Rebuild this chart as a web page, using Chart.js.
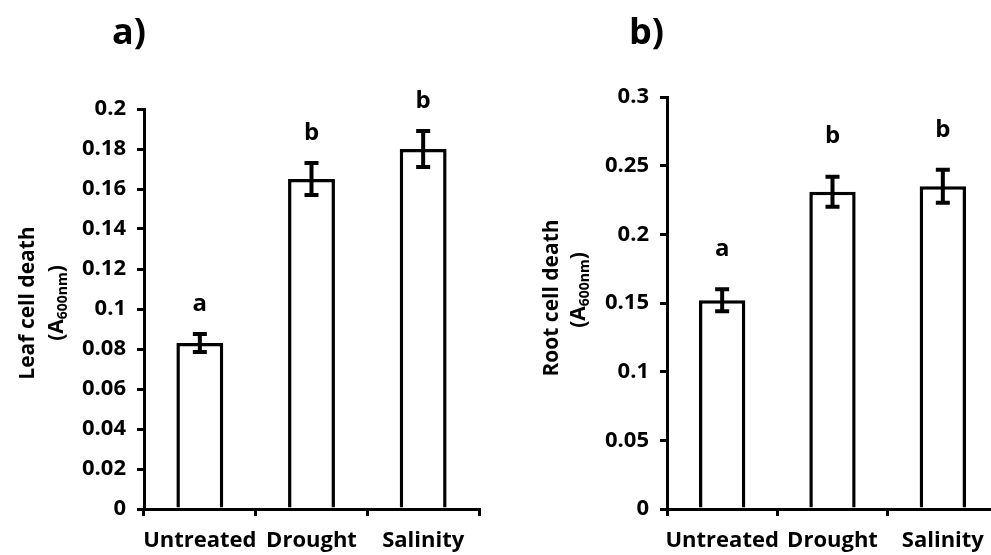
<!DOCTYPE html>
<html>
<head>
<meta charset="utf-8">
<script src="https://cdn.jsdelivr.net/npm/chart.js@4.4.1/dist/chart.umd.min.js"></script>
<style>
  html, body { margin: 0; padding: 0; background: #fff; overflow: hidden; width: 991px; height: 555px; position: relative; }
  .panel { position: absolute; top: 0; height: 555px; }
  #wrap_leaf { left: 0; width: 495px; }
  #wrap_root { left: 500px; width: 510px; }
</style>
</head>
<body>
<div class="panel" id="wrap_leaf"><canvas id="chart_leaf"></canvas></div>
<div class="panel" id="wrap_root"><canvas id="chart_root"></canvas></div>
<script>
// Cell death (A600nm) under stress treatments
const treatments = ['Untreated', 'Drought', 'Salinity'];

const leafDeath = [0.083, 0.165, 0.180];
const leafError = [0.0045, 0.008, 0.009];
const leafLetters = ['a', 'b', 'b'];
const leafTickLabels = ['0', '0.02', '0.04', '0.06', '0.08', '0.1', '0.12', '0.14', '0.16', '0.18', '0.2'];

const rootDeath = [0.152, 0.231, 0.235];
const rootError = [0.008, 0.011, 0.012];
const rootLetters = ['a', 'b', 'b'];
const rootTickLabels = ['0', '0.05', '0.1', '0.15', '0.2', '0.25', '0.3'];

const FONT = '"Open Sans", "Liberation Sans", sans-serif';

// error bars + significance letters, drawn from the dataset values
const errorBars = {
  id: 'errorBars',
  afterDatasetsDraw(chart, args, opts) {
    const { ctx } = chart;
    const y = chart.scales.y;
    const meta = chart.getDatasetMeta(0);
    const vals = chart.data.datasets[0].data;
    ctx.save();
    ctx.strokeStyle = '#000';
    ctx.lineWidth = 4;
    meta.data.forEach((bar, i) => {
      const top = y.getPixelForValue(vals[i] + opts.errors[i]);
      const bot = y.getPixelForValue(vals[i] - opts.errors[i]);
      const x = bar.x;
      ctx.beginPath();
      ctx.moveTo(x, top); ctx.lineTo(x, bot);
      ctx.moveTo(x - 7, top); ctx.lineTo(x + 7, top);
      ctx.moveTo(x - 7, bot); ctx.lineTo(x + 7, bot);
      ctx.stroke();
      ctx.fillStyle = '#000';
      ctx.font = 'bold 24px ' + FONT;
      ctx.textAlign = 'center';
      ctx.textBaseline = 'middle';
      ctx.fillText(opts.letters[i], x, top - opts.letterGap);
    });
    ctx.restore();
  }
};

// panel letter and two-line rotated y title with subscript
const panelText = {
  id: 'panelText',
  afterDraw(chart, args, opts) {
    const { ctx } = chart;
    ctx.save();
    ctx.fillStyle = '#000';
    ctx.font = 'bold 36px ' + FONT;
    ctx.textAlign = 'left';
    ctx.textBaseline = 'alphabetic';
    ctx.fillText(opts.panel, opts.panelX, 44);

    ctx.translate(opts.titleX, opts.titleY);
    ctx.rotate(-Math.PI / 2);
    ctx.textAlign = 'center';
    ctx.textBaseline = 'middle';
    ctx.font = 'bold 21px ' + FONT;
    ctx.fillText(opts.title, 0, 0);

    // "(A600nm)" on the second line
    const big = 'bold 21px ' + FONT, small = 'bold 14px ' + FONT;
    ctx.textAlign = 'left';
    ctx.textBaseline = 'alphabetic';
    ctx.font = big;
    const w1 = ctx.measureText('(A').width, w3 = ctx.measureText(')').width;
    ctx.font = small;
    const w2 = ctx.measureText('600nm').width;
    let x = -(w1 + w2 + w3) / 2 + opts.unitShift;
    const base = opts.unitGap + 7;
    ctx.font = big; ctx.fillText('(A', x, base); x += w1;
    ctx.font = small; ctx.fillText('600nm', x, base + 4); x += w2;
    ctx.font = big; ctx.fillText(')', x, base);
    ctx.restore();
  }
};

function makeChart(id, values, errors, letters, tickLabels, cfg) {
  return new Chart(document.getElementById(id), {
    type: 'bar',
    data: {
      labels: treatments,
      datasets: [{
        data: values,
        backgroundColor: '#fff',
        borderColor: '#000',
        borderWidth: 3.5,
        borderSkipped: 'bottom',
        categoryPercentage: 1,
        barPercentage: 0.42
      }]
    },
    options: {
      responsive: true,
      maintainAspectRatio: false,
      animation: false,
      events: [],
      layout: { padding: { left: 0, right: cfg.padRight, top: cfg.padTop, bottom: 0 } },
      scales: {
        x: {
          grid: { display: true, offset: true, drawOnChartArea: false, drawTicks: true, tickLength: 7, color: '#000', lineWidth: 3 },
          border: { display: true, color: '#000', width: 3 },
          ticks: {
            color: '#000', padding: 12, autoSkip: false, maxRotation: 0, minRotation: 0,
            font: { family: FONT, size: 22, weight: 'bold' }
          },
          afterFit(scale) { scale.height = 46; }
        },
        y: {
          min: 0,
          max: cfg.max,
          ticks: {
            stepSize: cfg.step,
            color: '#000',
            padding: 11,
            font: { family: FONT, size: 22, weight: 'bold' },
            callback: (v, i) => tickLabels[i]
          },
          grid: { display: true, drawOnChartArea: false, drawTicks: true, tickLength: 7, color: '#000', lineWidth: 3 },
          border: { display: true, color: '#000', width: 3 },
          afterFit(scale) { scale.width = cfg.axisLeft; }
        }
      },
      plugins: {
        legend: { display: false },
        tooltip: { enabled: false },
        errorBars: { errors: errors, letters: letters, letterGap: cfg.letterGap },
        panelText: cfg.text
      }
    },
    plugins: [errorBars, panelText]
  });
}

makeChart('chart_leaf', leafDeath, leafError, leafLetters, leafTickLabels, {
  max: 0.2, step: 0.02, axisLeft: 144, padRight: 16, padTop: 109, letterGap: 30,
  text: { panel: 'a)', panelX: 112, title: 'Leaf cell death', titleX: 28, titleY: 303, unitGap: 28, unitShift: 0 }
});

makeChart('chart_root', rootDeath, rootError, rootLetters, rootTickLabels, {
  max: 0.3, step: 0.05, axisLeft: 167, padRight: 12, padTop: 97, letterGap: 40,
  text: { panel: 'b)', panelX: 129, title: 'Root cell death', titleX: 52, titleY: 298, unitGap: 26, unitShift: 8 }
});
</script>
</body>
</html>
